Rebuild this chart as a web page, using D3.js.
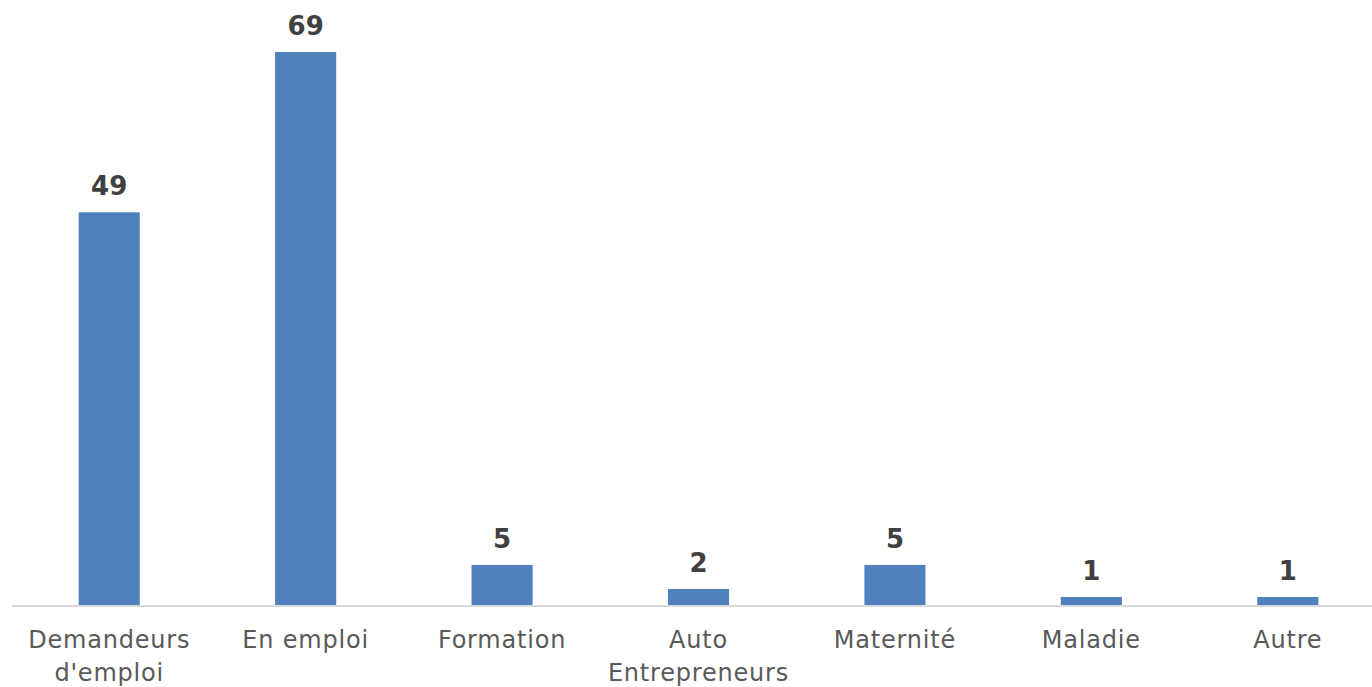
<!DOCTYPE html>
<html>
<head>
<meta charset="utf-8">
<script src="https://cdn.jsdelivr.net/npm/d3@7"></script>
<style>
  body { margin: 0; background: #fff; overflow: hidden; }
  svg { display: block; font-family: "DejaVu Sans", sans-serif; }
</style>
</head>
<body>
<div class="canvas"></div>
<script>
const WIDTH = 1372;
const HEIGHT = 687;
// the plot area runs a little past the right edge, as in the original
const margin = { top: 52, right: -14, bottom: 82, left: 11 };

const categories = [
  "Demandeurs d'emploi", 'En emploi', 'Formation', 'Auto Entrepreneurs',
  'Maternité', 'Maladie', 'Autre'
];
// category labels split onto lines as in the original
const labelLines = [
  ['Demandeurs', "d'emploi"], ['En emploi'], ['Formation'], ['Auto', 'Entrepreneurs'],
  ['Maternité'], ['Maladie'], ['Autre']
];
const counts = [49, 69, 5, 2, 5, 1, 1];

const graphWidth = WIDTH - margin.left - margin.right;
const graphHeight = HEIGHT - margin.top - margin.bottom;

const svg = d3.select('.canvas')
  .append('svg')
    .attr('width', WIDTH)
    .attr('height', HEIGHT);

const graphGroup = svg.append('g')
  .attr('transform', `translate(${margin.left},${margin.top})`);

const data = categories.map((name, i) => ({ name, amount: counts[i], lines: labelLines[i] }));

const x = d3.scaleBand()
  .domain(categories)
  .range([0, graphWidth])
  .paddingInner(0.689)
  .paddingOuter(0.3445);

const y = d3.scaleLinear()
  .domain([0, 69])
  .range([graphHeight, 0]);

// bars
graphGroup.selectAll('rect')
  .data(data)
  .enter()
  .append('rect')
    .attr('x', d => x(d.name))
    .attr('y', d => y(d.amount))
    .attr('width', x.bandwidth())
    .attr('height', d => graphHeight - y(d.amount))
    .attr('fill', '#4f81bd');

// baseline
graphGroup.append('line')
  .attr('x1', 1)
  .attr('x2', graphWidth)
  .attr('y1', graphHeight + 1)
  .attr('y2', graphHeight + 1)
  .attr('stroke', '#d9d9d9')
  .attr('stroke-width', 2);

// value labels
graphGroup.selectAll('text.value')
  .data(data)
  .enter()
  .append('text')
    .attr('class', 'value')
    .attr('x', d => x(d.name) + x.bandwidth() / 2)
    .attr('y', d => y(d.amount) - 17)
    .attr('text-anchor', 'middle')
    .attr('font-size', 26)
    .attr('font-weight', 'bold')
    .attr('fill', '#404040')
    .text(d => d.amount);

// category labels
const cats = graphGroup.selectAll('text.cat')
  .data(data)
  .enter()
  .append('text')
    .attr('class', 'cat')
    .attr('x', d => x(d.name) + x.bandwidth() / 2)
    .attr('y', graphHeight + 43)
    .attr('text-anchor', 'middle')
    .attr('font-size', 24)
    .attr('letter-spacing', 0.8)
    .attr('fill', '#595959');

cats.selectAll('tspan')
  .data(d => d.lines.map(l => ({ l, cx: x(d.name) + x.bandwidth() / 2 })))
  .enter()
  .append('tspan')
    .attr('x', d => d.cx)
    .attr('dy', (d, i) => i === 0 ? 0 : 33)
    .text(d => d.l);
</script>
</body>
</html>
